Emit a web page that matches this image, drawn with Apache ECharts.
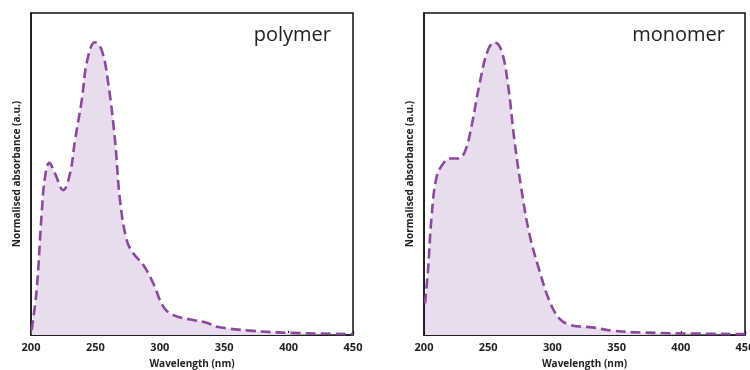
<!DOCTYPE html>
<html><head><meta charset="utf-8">
<script src="https://cdn.jsdelivr.net/npm/echarts@6/dist/echarts.min.js"></script>
<style>html,body{margin:0;padding:0;background:#fff}#c{width:750px;height:370px}</style>
</head><body><div id="c"></div>
<script>
const xTicks = [200, 250, 300, 350, 400, 450];
const polymerWl = [200.5,204.4,208.3,210.9,214.2,218.6,225,230.3,234.2,239.4,243.7,249.7,254.9,260,265.2,269.1,274.3,279.4,287.2,295,302.7,310.5,326,336.4,344.2,370,395.9,450];
const polymerAbs = [0.017,0.154,0.416,0.54,0.588,0.552,0.495,0.552,0.666,0.802,0.939,1.0,0.973,0.859,0.666,0.461,0.324,0.279,0.239,0.176,0.097,0.068,0.051,0.042,0.028,0.015,0.008,0.003];
const monomerWl = [200.8,203.3,205.9,209.8,215,220.1,226.6,231.8,236.9,243.3,249.8,255,260.2,265.3,270.4,275.6,282,289.8,297.5,305.3,314.3,331,346.5,372.3,450];
const monomerAbs = [0.108,0.233,0.404,0.54,0.586,0.603,0.603,0.626,0.711,0.859,0.973,1.0,0.973,0.859,0.666,0.506,0.347,0.222,0.119,0.057,0.034,0.026,0.015,0.008,0.003];
const panelTitles = ['polymer', 'monomer'];

const lineColor = '#8a4a9c';
const fillColor = '#eadcef';
const font = '"Open Sans", "Noto Sans", sans-serif';

function xAxis(gi) {
  return {
    gridIndex: gi, type: 'value', min: 200, max: 450, interval: 50,
    axisLine: { show: true, lineStyle: { color: '#111', width: 1.5 } },
    axisTick: { show: true, inside: true, length: 4, lineStyle: { color: '#111', width: 1.2 } },
    axisLabel: { color: '#222', fontWeight: 'bold', fontSize: 11, fontFamily: font, margin: 7,
      formatter: v => xTicks.includes(v) ? String(v) : '' },
    splitLine: { show: false },
    name: 'Wavelength (nm)', nameLocation: 'middle', nameGap: 24,
    nameTextStyle: { color: '#222', fontWeight: 'bold', fontSize: 10, fontFamily: font }
  };
}
function yAxis(gi) {
  return {
    gridIndex: gi, type: 'value', min: 0, max: 1.1,
    axisLine: { show: true, lineStyle: { color: '#111', width: 1.5 } },
    axisTick: { show: false }, axisLabel: { show: false }, splitLine: { show: false },
    name: 'Normalised absorbance (a.u.)', nameLocation: 'middle', nameGap: 9,
    nameTextStyle: { color: '#222', fontWeight: 'bold', fontSize: 10, fontFamily: font }
  };
}
function series(gi, xs, ys) {
  return {
    type: 'line', xAxisIndex: gi, yAxisIndex: gi, smooth: 0.4, symbol: 'none',
    data: xs.map((x, i) => [x, ys[i]]),
    lineStyle: { color: lineColor, width: 2.6, type: [10, 5] },
    areaStyle: { color: fillColor, opacity: 1 }
  };
}
const chart = echarts.init(document.getElementById('c'));
chart.setOption({
  animation: false,
  grid: [
    { left: 31, top: 13, width: 322, height: 322, outerBoundsMode: 'none', containLabel: false, show: true, borderColor: '#111', borderWidth: 1.5, backgroundColor: 'transparent' },
    { left: 424, top: 13, width: 321, height: 322, outerBoundsMode: 'none', containLabel: false, show: true, borderColor: '#111', borderWidth: 1.5, backgroundColor: 'transparent' }
  ],
  title: [
    { text: panelTitles[0], right: 750 - 336, top: 20, textStyle: { fontSize: 20, fontWeight: 'normal', color: '#222', fontFamily: font } },
    { text: panelTitles[1], right: 750 - 730, top: 20, textStyle: { fontSize: 20, fontWeight: 'normal', color: '#222', fontFamily: font } }
  ],
  xAxis: [xAxis(0), xAxis(1)],
  yAxis: [yAxis(0), yAxis(1)],
  series: [series(0, polymerWl, polymerAbs), series(1, monomerWl, monomerAbs)]
});
</script></body></html>
